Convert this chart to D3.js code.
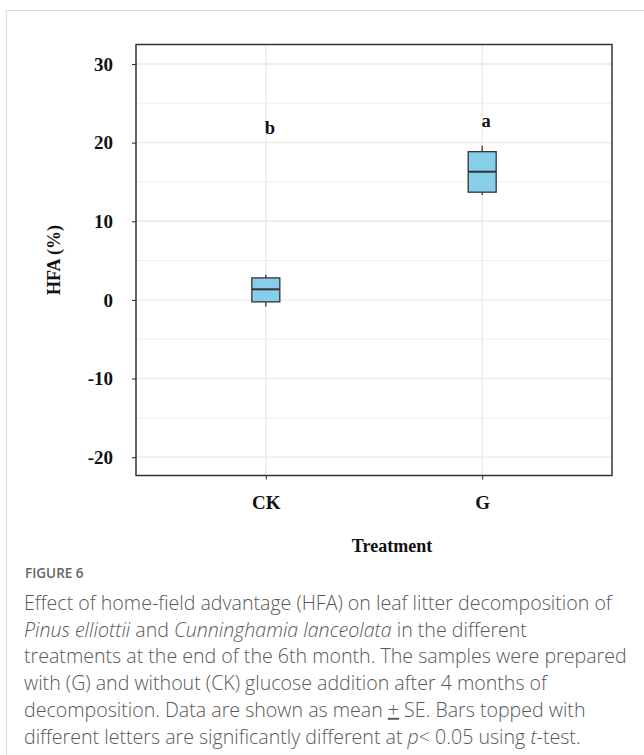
<!DOCTYPE html>
<html>
<head>
<meta charset="utf-8">
<script src="https://cdn.jsdelivr.net/npm/d3@7"></script>
<style>
  html, body { margin: 0; padding: 0; background: #fff; }
  svg { display: block; }
</style>
</head>
<body>
<svg id="fig" width="644" height="755"></svg>
<script>
// Treatment groups and their box summaries (HFA, %)
const treatments = ["CK", "G"];
const whiskerLow = [-0.85, 13.35];
const q1 = [-0.25, 13.7];
const median = [1.35, 16.3];
const q3 = [2.8, 18.85];
const whiskerHigh = [3.2, 19.6];
const letters = ["b", "a"];
const letterValue = [21.9, 22.7];
const yTicks = [-20, -10, 0, 10, 20, 30];
const yMinor = [-15, -5, 5, 15, 25];

const svg = d3.select("#fig");

// outer figure frame
svg.append("path")
  .attr("d", "M6.5,755 V10.5 H644")
  .attr("fill", "none")
  .attr("stroke", "#dcdcdc")
  .attr("stroke-width", 1.2);

const panel = { left: 136, right: 612, top: 44.5, bottom: 475.5 };

const x = d3.scalePoint()
  .domain(treatments)
  .range([panel.left, panel.right])
  .padding(0.6);

const y = d3.scaleLinear()
  .domain([-22.33, 32.48])
  .range([panel.bottom, panel.top]);

const serif = "'Liberation Serif', 'Times New Roman', serif";

// grid
const grid = svg.append("g");
grid.selectAll("line.minor").data(yMinor).join("line")
  .attr("class", "minor")
  .attr("x1", panel.left).attr("x2", panel.right)
  .attr("y1", d => y(d)).attr("y2", d => y(d))
  .attr("stroke", "#ececec").attr("stroke-width", 0.8);
grid.selectAll("line.major").data(yTicks).join("line")
  .attr("class", "major")
  .attr("x1", panel.left).attr("x2", panel.right)
  .attr("y1", d => y(d)).attr("y2", d => y(d))
  .attr("stroke", "#e8e8e8").attr("stroke-width", 1.3);
grid.selectAll("line.vert").data(treatments).join("line")
  .attr("class", "vert")
  .attr("x1", d => x(d)).attr("x2", d => x(d))
  .attr("y1", panel.top).attr("y2", panel.bottom)
  .attr("stroke", "#e8e8e8").attr("stroke-width", 1.3);

// boxes
const boxW = 28;
const boxes = svg.append("g").selectAll("g").data(treatments).join("g");
boxes.append("line")
  .attr("x1", d => x(d)).attr("x2", d => x(d))
  .attr("y1", (d, i) => y(whiskerHigh[i])).attr("y2", (d, i) => y(q3[i]))
  .attr("stroke", "#333").attr("stroke-width", 1.3);
boxes.append("line")
  .attr("x1", d => x(d)).attr("x2", d => x(d))
  .attr("y1", (d, i) => y(q1[i])).attr("y2", (d, i) => y(whiskerLow[i]))
  .attr("stroke", "#333").attr("stroke-width", 1.3);
boxes.append("rect")
  .attr("x", d => x(d) - boxW / 2)
  .attr("width", boxW)
  .attr("y", (d, i) => y(q3[i]))
  .attr("height", (d, i) => y(q1[i]) - y(q3[i]))
  .attr("fill", "#87CEEB")
  .attr("stroke", "#333").attr("stroke-width", 1.3);
boxes.append("line")
  .attr("x1", d => x(d) - boxW / 2).attr("x2", d => x(d) + boxW / 2)
  .attr("y1", (d, i) => y(median[i])).attr("y2", (d, i) => y(median[i]))
  .attr("stroke", "#333").attr("stroke-width", 2);

// significance letters
svg.append("g").selectAll("text").data(treatments).join("text")
  .attr("x", d => x(d) + 4)
  .attr("y", (d, i) => y(letterValue[i]))
  .attr("text-anchor", "middle")
  .attr("dominant-baseline", "central")
  .attr("font-family", serif).attr("font-weight", "bold").attr("font-size", 18.5)
  .attr("fill", "#111")
  .text((d, i) => letters[i]);

// panel border
svg.append("rect")
  .attr("x", panel.left).attr("y", panel.top)
  .attr("width", panel.right - panel.left)
  .attr("height", panel.bottom - panel.top)
  .attr("fill", "none")
  .attr("stroke", "#333").attr("stroke-width", 1.5);

// y axis
const yAxis = svg.append("g")
  .attr("transform", `translate(${panel.left},0)`)
  .call(d3.axisLeft(y).tickValues(yTicks).tickSize(4).tickPadding(19)
    .tickFormat(d => String(d)));
yAxis.select(".domain").remove();
yAxis.selectAll(".tick line").attr("stroke", "#333").attr("stroke-width", 1.1);
yAxis.selectAll(".tick text")
  .attr("font-family", serif).attr("font-weight", "bold").attr("font-size", 19)
  .attr("fill", "#111");

// x axis
const xAxis = svg.append("g")
  .attr("transform", `translate(0,${panel.bottom})`)
  .call(d3.axisBottom(x).tickSize(4).tickPadding(16));
xAxis.select(".domain").remove();
xAxis.selectAll(".tick line").attr("stroke", "#333").attr("stroke-width", 1.1);
xAxis.selectAll(".tick text")
  .attr("font-family", serif).attr("font-weight", "bold").attr("font-size", 19)
  .attr("fill", "#111");

// axis titles
svg.append("text")
  .attr("transform", `translate(54,${(panel.top + panel.bottom) / 2}) rotate(-90)`)
  .attr("text-anchor", "middle")
  .attr("dominant-baseline", "central")
  .attr("font-family", serif).attr("font-weight", "bold").attr("font-size", 18)
  .attr("fill", "#111")
  .text("HFA (%)");
svg.append("text")
  .attr("x", 392).attr("y", 546)
  .attr("text-anchor", "middle")
  .attr("dominant-baseline", "central")
  .attr("font-family", serif).attr("font-weight", "bold").attr("font-size", 18)
  .attr("fill", "#111")
  .text("Treatment");

// caption
const sans = "'Open Sans', 'Noto Sans', sans-serif";
svg.append("text")
  .attr("x", 25).attr("y", 578)
  .attr("font-family", sans).attr("font-size", 13.5).attr("font-weight", 600)
  .attr("fill", "#666")
  .text("FIGURE 6");

const captionLines = [
  [["Effect of home-field advantage (HFA) on leaf litter decomposition of", false]],
  [["Pinus elliottii", true], [" and ", false], ["Cunninghamia lanceolata", true], [" in the different", false]],
  [["treatments at the end of the 6th month. The samples were prepared", false]],
  [["with (G) and without (CK) glucose addition after 4 months of", false]],
  [["decomposition. Data are shown as mean ", false], ["+", false, true], [" SE. Bars topped with", false]],
  [["different letters are significantly different at ", false], ["p", true], ["< 0.05 using ", false], ["t", true], ["-test.", false]]
];
const cap = svg.append("g")
  .attr("font-family", sans).attr("font-size", 19.6).attr("font-weight", 300).attr("fill", "#585858");
captionLines.forEach((parts, i) => {
  const t = cap.append("text").attr("x", 24).attr("y", 610 + i * 26.7);
  parts.forEach(p => {
    t.append("tspan")
      .attr("font-style", p[1] ? "italic" : "normal")
      .attr("text-decoration", p[2] ? "underline" : null)
      .text(p[0]);
  });
});
</script>
</body>
</html>
